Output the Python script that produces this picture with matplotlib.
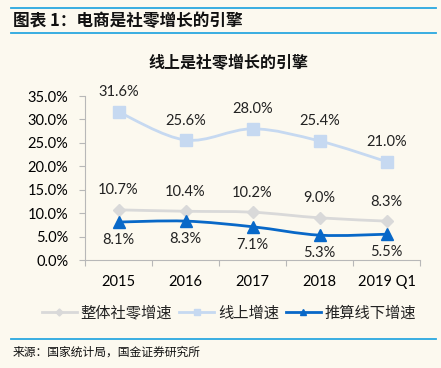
import numpy as np
import matplotlib
matplotlib.use("Agg")
import matplotlib.pyplot as plt
from matplotlib.path import Path
from matplotlib.patches import PathPatch
from matplotlib.lines import Line2D

plt.rcParams['font.family'] = ['Noto Sans CJK SC', 'DejaVu Sans']

categories = ["2015", "2016", "2017", "2018", "2019 Q1"]
total_growth = [10.7, 10.4, 10.2, 9.0, 8.3]
online_growth = [31.6, 25.6, 28.0, 25.4, 21.0]
offline_growth = [8.1, 8.3, 7.1, 5.3, 5.5]
yticks = [0, 5, 10, 15, 20, 25, 30, 35]

bg = "#FCF9EF"
c_total = "#D9D9D9"
c_online = "#C6D9F1"
c_offline = "#0868C8"
c_rule = "#29A8E0"
c_axis = "#B8B8B8"
num_font = "Lato"


def smooth_path(x, y):
    # Excel-like smoothed line as cubic bezier segments
    x = np.asarray(x, float)
    y = np.asarray(y, float)
    n = len(x)
    verts = [(x[0], y[0])]
    codes = [Path.MOVETO]
    t = 1 / 6
    for i in range(n - 1):
        p0 = (x[i - 1], y[i - 1]) if i > 0 else (x[i], y[i])
        p3 = (x[i + 2], y[i + 2]) if i + 2 < n else (x[i + 1], y[i + 1])
        c1 = (x[i] + t * (x[i + 1] - p0[0]), y[i] + t * (y[i + 1] - p0[1]))
        c2 = (x[i + 1] - t * (p3[0] - x[i]), y[i + 1] - t * (p3[1] - y[i]))
        verts += [c1, c2, (x[i + 1], y[i + 1])]
        codes += [Path.CURVE4] * 3
    return Path(verts, codes)


fig = plt.figure(figsize=(4.41, 3.68), dpi=100, facecolor=bg)
ax = fig.add_axes([85 / 441, 1 - 260 / 368, 335 / 441, 164 / 368])
ax.set_facecolor(bg)

xs = np.arange(len(categories))
series = [
    (total_growth, c_total, "D", 6, "整体社零增速"),
    (online_growth, c_online, "s", 8, "线上增速"),
    (offline_growth, c_offline, "^", 8, "推算线下增速"),
]
handles = []
for vals, col, mk, ms, name in series:
    ax.add_patch(PathPatch(smooth_path(xs, vals), fill=False, edgecolor=col,
                           lw=2, capstyle="round", clip_on=False))
    ax.plot(xs, vals, ls="none", marker=mk, ms=ms, color=col, clip_on=False, zorder=3)
    handles.append(Line2D([], [], color=col, lw=2, marker=mk, ms=ms * 0.6, label=name))

lab_kw = dict(textcoords="offset points", ha="center", fontsize=10.5,
              family=num_font, color="#222222")
for i, v in enumerate(online_growth):
    ax.annotate(f"{v:.1f}%", (i, v), xytext=(0, 9), va="bottom", **lab_kw)
for i, v in enumerate(total_growth):
    ax.annotate(f"{v:.1f}%", (i, v), xytext=(0, 9), va="bottom", **lab_kw)
for i, v in enumerate(offline_growth):
    ax.annotate(f"{v:.1f}%", (i, v), xytext=(0, -8), va="top", **lab_kw)

ax.set_xlim(-0.5, len(categories) - 0.5)
ax.set_ylim(0, 35)
ax.set_yticks(yticks)
ax.set_yticklabels([f"{t:.1f}%" for t in yticks], family=num_font, fontsize=10.5)
ax.set_xticks(np.arange(-0.5, len(categories), 1.0))
ax.set_xticklabels([])
ax.set_xticks(xs, minor=True)
ax.set_xticklabels(categories, minor=True, family=num_font, fontsize=10.5)
ax.tick_params(axis="x", which="major", length=4, color=c_axis, direction="out")
ax.tick_params(axis="x", which="minor", length=0, pad=11)
ax.tick_params(axis="y", length=4, color=c_axis, direction="out", pad=8)
for s in ["top", "right"]:
    ax.spines[s].set_visible(False)
for s in ["left", "bottom"]:
    ax.spines[s].set_color(c_axis)

fig.text(228 / 441, 1 - 63 / 368, "线上是社零增长的引擎", ha="center", va="center",
         fontsize=11.5, fontweight="bold", color="#111111")
fig.text(13 / 441, 1 - 21 / 368, "图表 1：电商是社零增长的引擎", ha="left", va="center",
         fontsize=12, fontweight="bold", style="italic", color="#111111")

for yy in [8, 33, 339]:
    fig.add_artist(Line2D([11 / 441, 436 / 441], [1 - yy / 368] * 2, color=c_rule, lw=1.3))

fig.text(13 / 441, 1 - 352 / 368, "来源：国家统计局，国金证券研究所", ha="left", va="center",
         fontsize=8.5, color="#111111")

fig.legend(handles=handles, loc="center", bbox_to_anchor=(229 / 441, 1 - 313 / 368), ncol=3,
           frameon=False, handlelength=2.3, handletextpad=0.25, columnspacing=0.45,
           labelcolor="#222222", prop={"family": "Noto Sans CJK SC", "size": 11})

fig.savefig("out.png", dpi=100, facecolor=bg)
